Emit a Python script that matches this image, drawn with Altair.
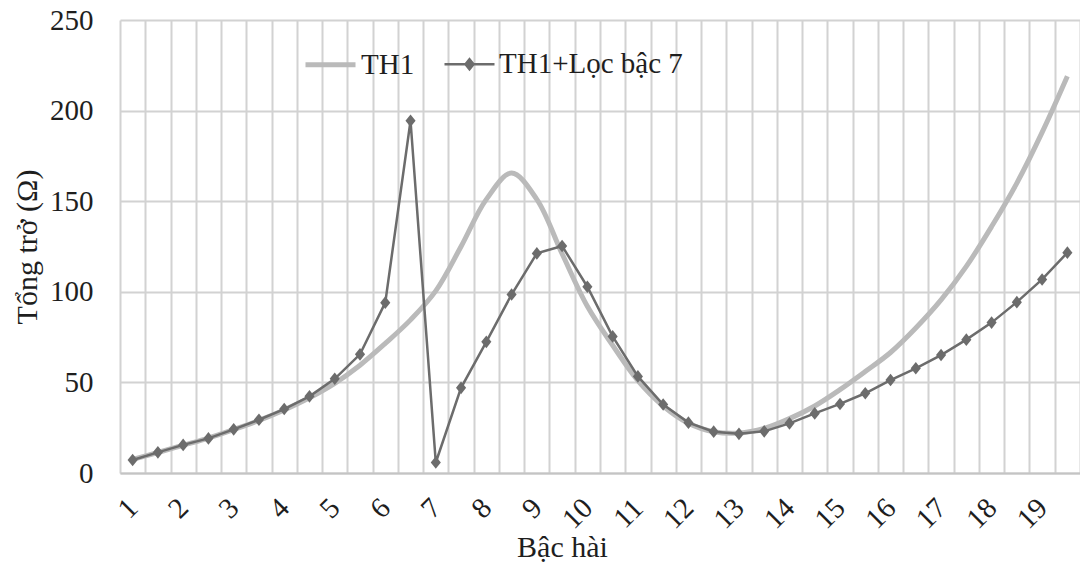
import altair as alt
import pandas as pd

harmonic = [1, 1.5, 2, 2.5, 3, 3.5, 4, 4.5, 5, 5.5, 6, 6.5, 7, 7.5, 8, 8.5, 9, 9.5, 10,
            10.5, 11, 11.5, 12, 12.5, 13, 13.5, 14, 14.5, 15, 15.5, 16, 16.5, 17, 17.5,
            18, 18.5, 19, 19.5]
th1 = [7.5, 11.3, 15.3, 19.3, 24.0, 29.0, 34.8, 41.5, 49.5, 59.5, 71.5, 84.5, 100.5,
       125.0, 151.0, 165.5, 151.0, 121.0, 92.0, 70.5, 51.0, 37.0, 27.5, 22.8, 22.0,
       24.6, 30.0, 37.0, 46.0, 56.0, 66.5, 80.0, 95.5, 114.0, 136.0, 160.0, 188.0, 219.0]
th1_loc7 = [7.2, 11.4, 15.5, 19.1, 24.1, 29.4, 35.3, 42.3, 52.0, 65.5, 94.0, 194.4,
            5.8, 47.0, 72.4, 98.5, 121.2, 125.3, 102.8, 75.4, 53.3, 37.8, 27.8, 22.8,
            21.6, 23.0, 27.4, 32.9, 38.1, 44.0, 51.3, 57.8, 65.1, 73.6, 83.0, 94.3,
            106.8, 121.6]
series_names = ["TH1", "TH1+Lọc bậc 7"]
x_labels = list(range(1, 20))
y_ticks = [0, 50, 100, 150, 200, 250]
grid_x = [0.75 + 0.5 * k for k in range(39)]

LIGHT = "#bababa"
DARK = "#6c6c6c"
TEXT = "#1e1e1e"
GRID = "#d2d2d2"
FONT = "Liberation Serif"

df = pd.DataFrame({"h": harmonic, series_names[0]: th1, series_names[1]: th1_loc7})
long = df.melt("h", var_name="series", value_name="z")

xscale = alt.Scale(domain=[0.75, 19.75], nice=False, zero=False)
yscale = alt.Scale(domain=[0, 250], nice=False)

y_enc = alt.Y("z:Q", scale=yscale, axis=alt.Axis(
    values=y_ticks, grid=True, gridColor=GRID, gridWidth=2, ticks=False, domain=False,
    labelFont=FONT, labelFontSize=29, labelColor=TEXT, labelPadding=27,
    title="Tổng trở (Ω)", titleFont=FONT, titleFontSize=30, titleFontWeight="normal",
    titleColor=TEXT, titleAngle=270, titleX=-84, titleY=226.5, titleAlign="center",
    titleBaseline="alphabetic"))

x_grid = alt.X("h:Q", scale=xscale, axis=alt.Axis(
    values=grid_x, grid=True, gridColor=GRID, gridWidth=2, labels=False, ticks=False,
    domain=False, title=None, orient="top"))

x_lab = alt.X("h:Q", scale=xscale, axis=alt.Axis(
    values=x_labels, grid=False, ticks=False, domain=True, domainColor="#c4c4c4",
    domainWidth=2, orient="bottom",
    labelFont=FONT, labelFontSize=29, labelColor=TEXT, labelAngle=315,
    labelAlign="right", labelBaseline="middle", labelPadding=30,
    title="Bậc hài", titleFont=FONT, titleFontSize=30, titleFontWeight="normal",
    titleColor=TEXT, titleX=442, titleY=83, titleAlign="center",
    titleBaseline="alphabetic"))

x_none = alt.X("h:Q", scale=xscale, axis=None)

base = alt.Chart(long)

light_line = base.transform_filter(alt.datum.series == series_names[0]).mark_line(
    color=LIGHT, strokeWidth=5, interpolate="catmull-rom").encode(x=x_grid, y=y_enc)

dark_line = base.transform_filter(alt.datum.series == series_names[1]).mark_line(
    color=DARK, strokeWidth=2.5).encode(x=x_lab, y=y_enc)

dark_pts = base.transform_filter(alt.datum.series == series_names[1]).mark_point(
    shape="M0,-1L0.8,0L0,1L-0.8,0Z", filled=True, size=160, color=DARK, opacity=1
).encode(x=x_none, y=y_enc)

leg = alt.Legend(title=None, orient="none", legendX=183, legendY=17,
                 direction="horizontal", labelFont=FONT, labelFontSize=29,
                 labelColor=TEXT, labelLimit=400, labelOffset=3, columnPadding=24,
                 symbolSize=2500, padding=0)
paths = ["M-1,0H1", "M-1,0H1M0,-0.2L0.16,0L0,0.2L-0.16,0Z"]
legend_layer = base.transform_filter("false").mark_point(
    filled=True, size=2500, opacity=1).encode(
    fill=alt.Fill("series:N", scale=alt.Scale(domain=series_names, range=[LIGHT, DARK]), legend=leg),
    stroke=alt.Stroke("series:N", scale=alt.Scale(domain=series_names, range=[LIGHT, DARK]), legend=leg),
    shape=alt.Shape("series:N", scale=alt.Scale(domain=series_names, range=paths), legend=leg),
    strokeWidth=alt.StrokeWidth("series:N", scale=alt.Scale(domain=series_names, range=[5, 2.5]), legend=leg),
)

chart = alt.layer(light_line, dark_line, dark_pts, legend_layer).resolve_axis(
    x="independent").properties(
    width=960, height=453,
    autosize=alt.AutoSizeParams(type="none"),
    padding={"left": 120, "top": 20, "right": 0, "bottom": 95},
    background="white",
).configure_view(stroke=None)

chart.save("out.html", embed_options={"renderer": "svg", "actions": False})
